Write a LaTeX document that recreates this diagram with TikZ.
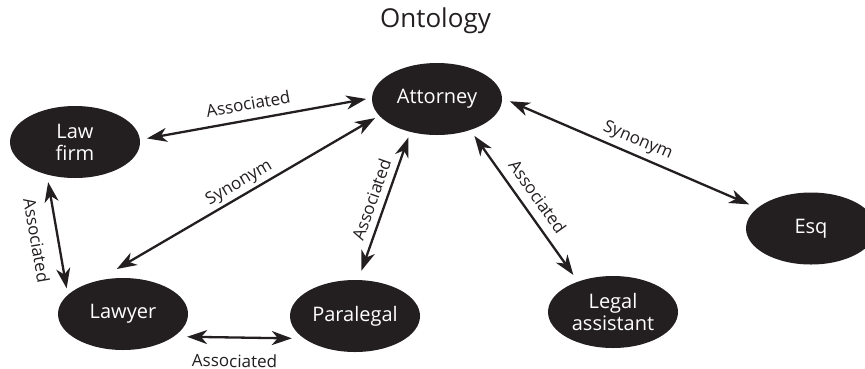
\documentclass[tikz,border=0pt]{standalone}
\usepackage{fontspec}
\setmainfont{Open Sans}
\usetikzlibrary{arrows.meta,shapes.geometric}
\definecolor{inkblack}{HTML}{231F20}
\begin{document}
\begin{tikzpicture}[x=1pt,y=-1pt,
  concept/.style={ellipse, fill=inkblack, text=white, minimum width=130pt,
    minimum height=72pt, inner sep=0pt, outer sep=0pt, align=center,
    font=\fontsize{20}{22}\selectfont},
  link/.style={line width=2.3pt, draw=inkblack,
    {Stealth[length=20pt,width=14pt,inset=6pt]}-{Stealth[length=20pt,width=14pt,inset=6pt]}},
  lbl/.style={font=\fontsize{17}{20}\selectfont, text=inkblack, sloped, inner xsep=0pt},
]
\useasboundingbox (0,0) rectangle (865,368);
\fill[white] (0,0) rectangle (865,368);

\node[anchor=base, font=\fontsize{26}{30}\selectfont, text=inkblack] (title) at (435.5,27.3) {Ontology};

\node[concept] (att) at (437,99) {Attorney};
\node[concept] (lf) at (75,142) {Law\\firm};
\node[concept] (law) at (123,314) {Lawyer};
\node[concept] (par) at (355,316) {Paralegal};
\node[concept] (la) at (613,312) {Legal\\assistant};
\node[concept] (esq) at (811,228.5) {Esq};

\draw[link, shorten <=7.3pt, shorten >=6pt] (lf.2) -- (att.179)
  node[lbl, pos=0.479, above, inner ysep=8.5pt] (l1) {Associated};
\draw[link, shorten <=24.5pt, shorten >=5pt] (law.130) -- (att.196)
  node[lbl, pos=0.528, above, inner ysep=2.8pt] (l2) {Synonym};
\draw[link, shorten <=7.8pt, shorten >=6.8pt] (lf.229) -- (law.161)
  node[lbl, pos=0.516, below, inner ysep=13.5pt] (l3) {Associated};
\draw[link, shorten <=9.9pt, shorten >=5.8pt] (par.85) -- (att.231)
  node[lbl, pos=0.511, above, inner ysep=6.6pt] (l4) {Associated};
\draw[link, shorten <=13.5pt, shorten >=12.5pt] (law.336) -- (par.204)
  node[lbl, pos=0.469, below, inner ysep=15.6pt] (l5) {Associated};
\draw[link, shorten <=7.3pt, shorten >=8.2pt] (att.317) -- (la.139)
  node[lbl, pos=0.503, above, inner ysep=8.7pt] (l6) {Associated};
\draw[link, shorten <=8.6pt, shorten >=9.1pt] (att.1) -- (esq.159)
  node[lbl, pos=0.509, above, inner ysep=5pt] (l7) {Synonym};
\end{tikzpicture}
\end{document}
